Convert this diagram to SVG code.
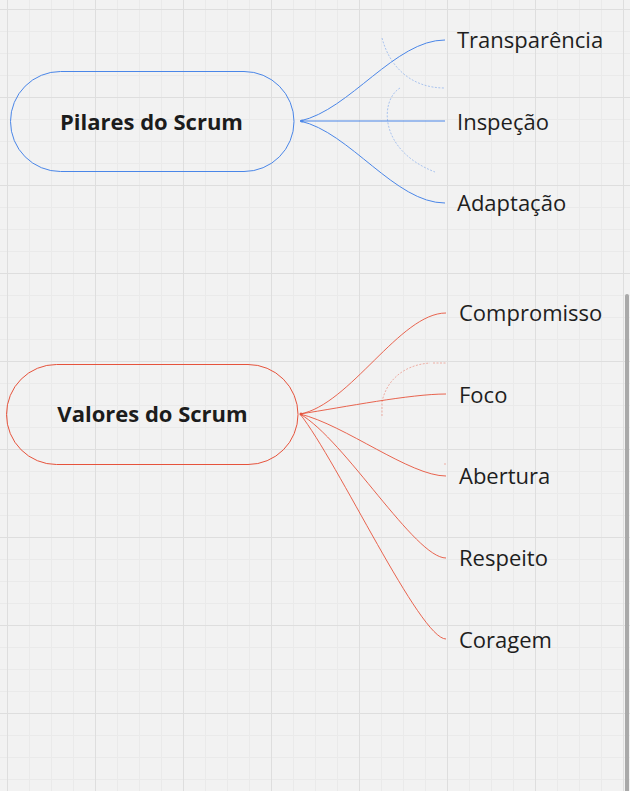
<svg xmlns="http://www.w3.org/2000/svg" width="630" height="791" viewBox="0 0 630 791">
  <defs>
    <pattern id="minor" x="7" y="9" width="22" height="22" patternUnits="userSpaceOnUse">
      <path d="M0.5 0V22M0 0.5H22" stroke="#eaeaea" stroke-width="1" fill="none"/>
    </pattern>
    <pattern id="major" x="7" y="9" width="88" height="88" patternUnits="userSpaceOnUse">
      <path d="M0.5 0V88M0 0.5H88" stroke="#dedede" stroke-width="1" fill="none"/>
    </pattern>
    <style>
      .node-blue { fill: none; stroke: #4a86e8; stroke-width: 1; }
      .node-red { fill: none; stroke: #e6533c; stroke-width: 1; }
      .title { font-family: "Open Sans", "Noto Sans", "Liberation Sans", sans-serif; font-size: 22px; font-weight: bold; fill: #1c1c1c; text-anchor: middle; }
      .label { font-family: "Open Sans", "Noto Sans", "Liberation Sans", sans-serif; font-size: 22px; fill: #1e1e1e; }
      .c-blue { fill: none; stroke: #4a86e8; stroke-width: 1; }
      .c-red { fill: none; stroke: #e6533c; stroke-width: 0.9; }
      .ghost-blue { fill: none; stroke: #4a86e8; stroke-width: 0.8; stroke-opacity: 0.55; stroke-dasharray: 2 1.5; }
      .ghost-red { fill: none; stroke: #e6533c; stroke-width: 0.8; stroke-opacity: 0.55; stroke-dasharray: 2 1.5; }
    </style>
  </defs>

  <rect x="0" y="0" width="630" height="791" fill="#f2f2f2"/>
  <rect x="0" y="0" width="630" height="791" fill="url(#minor)"/>
  <rect x="0" y="0" width="630" height="791" fill="url(#major)"/>

  <g id="connectors">
    <path class="c-blue" d="M300,121 C350,110 395,40 445,40"/>
    <path class="c-blue" d="M300,121 L445,121"/>
    <path class="c-blue" d="M300,121 C350,132 395,203 445,203"/>
    <circle cx="302" cy="121" r="1.5" fill="#4a86e8"/>
    <path class="ghost-blue" d="M382,38 C390,68 412,88 445,88"/>
    <path class="ghost-blue" d="M400,88 C380,100 378,150 435,172"/>

    <path class="c-red" d="M300,414 C350,405 400,313 446,313"/>
    <path class="c-red" d="M300,414 C345,407 410,394 446,394"/>
    <path class="c-red" d="M300,414 C345,425 410,476 446,476"/>
    <path class="c-red" d="M300,414 C345,440 415,558 446,558"/>
    <path class="c-red" d="M300,414 C338,462 420,639 446,639"/>
    <circle cx="301" cy="414" r="1.5" fill="#e6533c"/>
    <path class="ghost-red" d="M382,416 L382,402 C386,382 402,365 430,363"/>
    <path class="ghost-red" d="M433,363 L446,363"/>
    <path class="ghost-red" d="M444,464 L446,464"/>
  </g>

  <g id="pilares">
    <rect class="node-blue" x="10.5" y="71.5" width="283.5" height="100" rx="50" ry="50"/>
    <text class="title" x="151.5" y="129.5">Pilares do Scrum</text>
  </g>
  <g id="transparencia"><text class="label" x="457" y="48">Transparência</text></g>
  <g id="inspecao"><text class="label" x="457" y="129.5">Inspeção</text></g>
  <g id="adaptacao"><text class="label" x="457" y="211">Adaptação</text></g>

  <g id="valores">
    <rect class="node-red" x="6.5" y="364.5" width="291.5" height="100" rx="50" ry="50"/>
    <text class="title" x="152.5" y="421.5">Valores do Scrum</text>
  </g>
  <g id="compromisso"><text class="label" x="459" y="321">Compromisso</text></g>
  <g id="foco"><text class="label" x="459" y="402.5">Foco</text></g>
  <g id="abertura"><text class="label" x="459" y="484">Abertura</text></g>
  <g id="respeito"><text class="label" x="459" y="566">Respeito</text></g>
  <g id="coragem"><text class="label" x="459" y="647.5">Coragem</text></g>

  <rect x="625" y="294" width="4" height="500" rx="2" fill="#a9a9a9"/>
</svg>
